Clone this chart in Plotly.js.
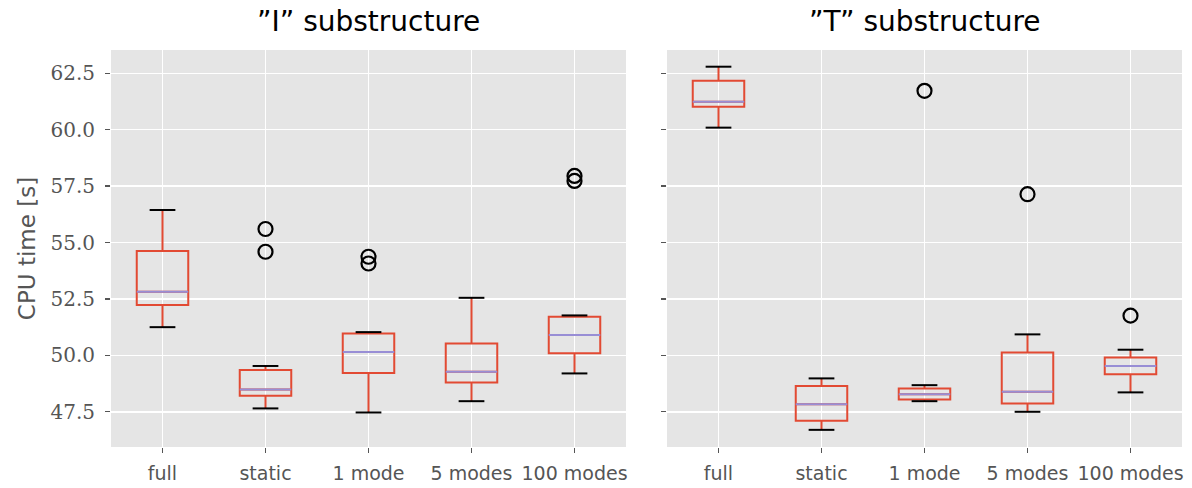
<!DOCTYPE html>
<html>
<head>
<meta charset="utf-8">
<script src="https://cdn.plot.ly/plotly-3.0.1.min.js"></script>
<style>html,body{margin:0;padding:0;background:#fff;}#chart{width:1192px;height:488px;}</style>
</head>
<body>
<div id="chart"></div>
<script>
// ---- data ----
const categories = ["full", "static", "1 mode", "5 modes", "100 modes"];
const panelTitles = ["”I” substructure", "”T” substructure"];

// "I" substructure
const I_lower  = [51.25, 47.65, 47.47, 47.97, 49.20];
const I_q1     = [52.23, 48.21, 49.22, 48.80, 50.09];
const I_median = [52.82, 48.49, 50.15, 49.27, 50.90];
const I_q3     = [54.62, 49.35, 50.97, 50.53, 51.71];
const I_upper  = [56.44, 49.53, 51.03, 52.55, 51.77];
const I_fliers = [[], [55.60, 54.59], [54.37, 54.07], [], [57.95, 57.73]];

// "T" substructure
const T_lower  = [60.09, 46.70, 47.97, 47.50, 48.36];
const T_q1     = [61.02, 47.10, 48.05, 47.87, 49.16];
const T_median = [61.24, 47.83, 48.28, 48.39, 49.53];
const T_q3     = [62.17, 48.64, 48.53, 50.13, 49.91];
const T_upper  = [62.79, 48.98, 48.68, 50.93, 50.25];
const T_fliers = [[], [], [61.72], [57.14], [51.76]];

// ---- style ----
const BOX = "#E24A33", MED = "#988ED5", CAP = "#000000";
const BOXW = 0.5, CAPW = 0.25;
const SANS = "'DejaVu Sans', sans-serif";

const pos = categories.map((c, i) => i + 1);

function segs(vals, half) {
  const xs = [], ys = [];
  vals.forEach((v, i) => { xs.push(pos[i] - half, pos[i] + half, null); ys.push(v, v, null); });
  return {xs, ys};
}

function panel(lower, q1, med, q3, upper, fliers, xa, ya) {
  const out = [];
  out.push({
    type: "box", x: pos, q1: q1, median: med, q3: q3,
    lowerfence: lower, upperfence: upper,
    width: BOXW, whiskerwidth: 0, boxpoints: false,
    line: {color: BOX, width: 2}, fillcolor: "rgba(0,0,0,0)",
    xaxis: xa, yaxis: ya, hoverinfo: "skip", showlegend: false
  });
  const m = segs(med, BOXW / 2);
  out.push({type: "scatter", mode: "lines", x: m.xs, y: m.ys, line: {color: MED, width: 2},
            xaxis: xa, yaxis: ya, hoverinfo: "skip", showlegend: false});
  const lo = segs(lower, CAPW / 2), hi = segs(upper, CAPW / 2);
  out.push({type: "scatter", mode: "lines", x: lo.xs.concat(hi.xs), y: lo.ys.concat(hi.ys),
            line: {color: CAP, width: 2}, xaxis: xa, yaxis: ya, hoverinfo: "skip", showlegend: false});
  const fx = [], fy = [];
  fliers.forEach((arr, i) => arr.forEach(v => { fx.push(pos[i]); fy.push(v); }));
  out.push({type: "scatter", mode: "markers", x: fx, y: fy,
            marker: {symbol: "circle-open", size: 14, color: CAP, line: {width: 2.2, color: CAP}},
            xaxis: xa, yaxis: ya, hoverinfo: "skip", showlegend: false});
  return out;
}

const data = panel(I_lower, I_q1, I_median, I_q3, I_upper, I_fliers, "x", "y")
  .concat(panel(T_lower, T_q1, T_median, T_q3, T_upper, T_fliers, "x2", "y2"));

const W = 1192, H = 488;
const plotTop = 50, plotBottom = 447;
const yDom = [1 - plotBottom / H, 1 - plotTop / H];
const yRange = [45.94, 63.53];
const yTicks = [47.5, 50.0, 52.5, 55.0, 57.5, 60.0, 62.5];

const xBase = {
  range: [0.5, 5.5], tickvals: pos, ticktext: categories,
  showgrid: true, gridcolor: "#FFFFFF", gridwidth: 1.5, zeroline: false,
  ticks: "outside", ticklen: 5, tickwidth: 1.2, tickcolor: "#555555",
  ticklabelstandoff: 4,
  tickfont: {family: SANS, size: 19, color: "#555555"},
  showline: false, fixedrange: true
};
const yBase = {
  range: yRange, tickvals: yTicks, domain: yDom,
  showgrid: true, gridcolor: "#FFFFFF", gridwidth: 1.5, zeroline: false,
  ticks: "outside", ticklen: 5, tickwidth: 1.2, tickcolor: "#555555",
  ticklabelstandoff: 6,
  tickfont: {family: "'DejaVu Serif', 'Liberation Serif', serif", size: 20, color: "#555555"},
  showline: false, fixedrange: true
};

const layout = {
  width: W, height: H,
  margin: {l: 0, r: 0, t: 0, b: 0},
  paper_bgcolor: "#FFFFFF", plot_bgcolor: "#E5E5E5",
  showlegend: false,
  xaxis: Object.assign({}, xBase, {domain: [111 / W, 626 / W], anchor: "y"}),
  xaxis2: Object.assign({}, xBase, {domain: [667 / W, 1182 / W], anchor: "y2"}),
  yaxis: Object.assign({}, yBase, {
    anchor: "x", tickformat: ".1f",
    title: {text: "CPU time [s]", standoff: 8,
            font: {family: SANS, size: 23, color: "#555555"}}
  }),
  yaxis2: Object.assign({}, yBase, {anchor: "x2", showticklabels: false}),
  annotations: [
    {text: panelTitles[0], xref: "paper", yref: "paper", x: (111 + 626) / 2 / W, y: 1 - 22 / H,
     xanchor: "center", yanchor: "middle", showarrow: false,
     font: {family: SANS, size: 28, color: "#000000"}},
    {text: panelTitles[1], xref: "paper", yref: "paper", x: (667 + 1182) / 2 / W, y: 1 - 22 / H,
     xanchor: "center", yanchor: "middle", showarrow: false,
     font: {family: SANS, size: 28, color: "#000000"}}
  ]
};

Plotly.newPlot("chart", data, layout, {displayModeBar: false, staticPlot: true});
</script>
</body>
</html>
